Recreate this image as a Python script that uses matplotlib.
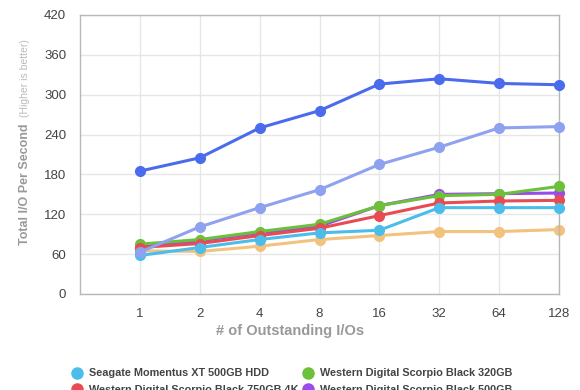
import matplotlib
matplotlib.use("Agg")
import matplotlib.pyplot as plt

categories = ["1", "2", "4", "8", "16", "32", "64", "128"]
series_names = [
    "Seagate Momentus XT 500GB HDD",
    "Western Digital Scorpio Black 320GB",
    "Western Digital Scorpio Black 750GB 4K",
    "Western Digital Scorpio Black 500GB",
    "Seagate Momentus 7200.4 500GB",
    "Seagate Momentus XT 500GB SSD Mode",
    "Seagate Momentus XT 500GB Hybrid",
]
cyan = [58, 70, 82, 92, 96, 130, 130, 130]
green = [75, 82, 94, 105, 133, 148, 150, 162]
red = [70, 76, 88, 99, 118, 137, 140, 141]
purple = [71, 80, 92, 102, 133, 150, 151, 152]
orange = [65, 64, 72, 82, 88, 94, 94, 97]
lightblue = [63, 101, 130, 157, 195, 221, 250, 252]
darkblue = [185, 205, 250, 276, 316, 324, 317, 315]
series_values = [cyan, green, red, purple, orange, lightblue, darkblue]
colors = ["#4cbdea", "#6cc13b", "#e84b52", "#9a4ce8", "#f1c37e", "#8fa2ef", "#4a6cec"]
zorders = [5, 4, 4.5, 3, 2, 6, 7]
y_ticks = [0, 60, 120, 180, 240, 300, 360, 420]

plt.rcParams['font.family'] = ['Liberation Sans', 'DejaVu Sans']
fig = plt.figure(figsize=(5.8, 3.9), dpi=100)
ax = fig.add_axes([80/580, 1-294/390, (559-80)/580, (294-15)/390])

x = list(range(len(categories)))
handles = []
for name, vals, c, z in zip(series_names, series_values, colors, zorders):
    h, = ax.plot(x, vals, color=c, lw=2.2, marker='o', ms=7, mec=c, label=name,
                 clip_on=False, solid_capstyle='round', zorder=z)
    handles.append(h)

ax.set_xlim(-1, 7)
ax.set_ylim(0, 420)
ax.set_xticks(x)
ax.set_xticklabels(categories)
ax.set_yticks(y_ticks)
ax.grid(True, color='#e6e6e6', lw=1)
ax.set_axisbelow(True)
for s in ax.spines.values():
    s.set_color('#b8b8b8')
    s.set_linewidth(1)
ax.tick_params(length=0, labelsize=9.5, colors='#444444', pad=10)
ax.tick_params(axis='y', pad=10)

fig.text(290/580, 1-331/390, "# of Outstanding I/Os", ha='center', va='center',
         fontsize=10.5, fontweight='bold', color='#999999')
fig.text(25/580, 1-184/390, "Total I/O Per Second", rotation=90, ha='center', va='center',
         fontsize=9, fontweight='bold', color='#999999')
fig.text(25/580, 1-78/390, "(Higher is better)", rotation=90, ha='center', va='center',
         fontsize=7.5, color='#bbbbbb')

order = [0, 2, 4, 6, 1, 3, 5]
leg = fig.legend([handles[i] for i in order], [series_names[i] for i in order],
                 loc='upper left', bbox_to_anchor=(68/580, 1-364/390), ncol=2,
                 frameon=False, fontsize=7.8, handlelength=0.8, handletextpad=0.7,
                 columnspacing=0.5, labelspacing=0.6, borderaxespad=0)
for h in leg.legend_handles:
    h.set_linestyle('none')
    h.set_markersize(8)
for t in leg.get_texts():
    t.set_color('#444444')
    t.set_fontweight('bold')

fig.savefig('out.png', dpi=100)
